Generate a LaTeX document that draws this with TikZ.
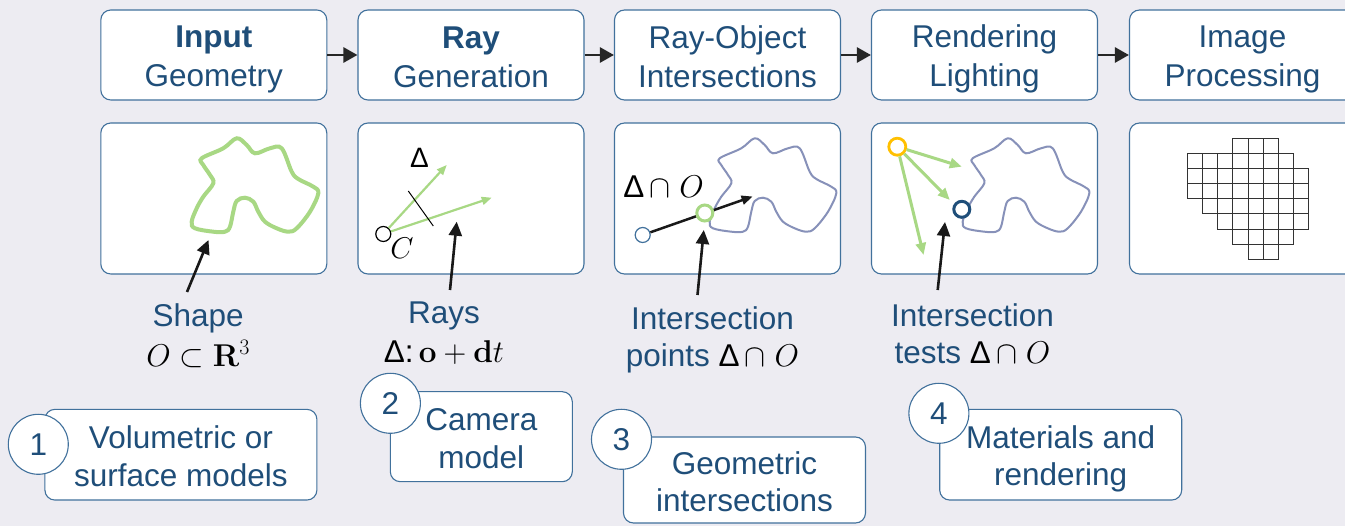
\RequirePackage{fix-cm}
\documentclass[tikz,border=0pt]{standalone}
\usepackage[no-math]{fontspec}
\setmainfont{Liberation Sans}
\usetikzlibrary{arrows.meta}
\definecolor{bgc}{RGB}{237,236,242}
\definecolor{bordc}{RGB}{65,113,156}
\definecolor{txtc}{RGB}{31,78,121}
\definecolor{grn}{RGB}{168,216,132}
\definecolor{blobc}{RGB}{135,145,185}
\definecolor{gold}{RGB}{255,192,0}
\definecolor{dkblue}{RGB}{31,78,121}
\newcommand\fs{\fontsize{31.5}{37.5}\selectfont}
\newcommand\lstrut{\rule[-5.5pt]{0pt}{37pt}}
\begin{document}
\begin{tikzpicture}[x=1pt,y=-1pt,
  stage/.style={draw=bordc, line width=1.1pt, fill=white, rounded corners=10pt, minimum width=226pt, minimum height=90pt, inner sep=0pt, align=center, text=txtc, font=\fs},
  panel/.style={draw=bordc, line width=1.1pt, fill=white, rounded corners=10pt, minimum width=226pt, minimum height=151pt, inner sep=0pt},
  tag/.style={draw=bordc, line width=1.1pt, fill=white, rounded corners=10pt, inner sep=0pt, align=center, text=txtc, font=\fs},
  num/.style={circle, draw=bordc, line width=1.1pt, fill=white, minimum size=60pt, inner sep=0pt, text=txtc, font=\fs},
  caption/.style={align=center, text=txtc, font=\fs, inner sep=0pt},
  flow/.style={line width=2.6pt, draw=black!85, -{Triangle[length=14pt,width=15pt]}},
  pointer/.style={line width=2.6pt, draw=black!90, -{Triangle[length=14pt,width=13pt]}},
  ray/.style={line width=2.2pt, draw=grn, -{Triangle[length=10pt,width=8pt]}},
  rayb/.style={line width=3pt, draw=grn, -{Triangle[length=12pt,width=10pt]}},
  dot/.style={circle, fill=white, inner sep=0pt},
  cell/.style={draw=black!80, line width=0.9pt},
  blob/.pic={\draw[pic actions] plot[smooth cycle, tension=0.6] coordinates{
    (101.7,35.3) (123.3,25.3) (136.7,15.3) (146.7,22) (155,30.3) (170,25.3) (181.7,25.3)
    (191.7,48.7) (198.3,56) (213.3,63.7) (218.3,70.3) (210,88.7) (196.7,105.3) (188.3,108.7)
    (176.7,105.3) (165,98.7) (158.3,88.7) (153.3,78.7) (145,74.7) (136.7,78) (133.3,88.7)
    (130,103.7) (125,108.7) (113.3,108.7) (95,105.3) (91.7,98.7) (96.7,85.3) (103.3,73.7)
    (113.3,60.3) (110,52) (103.3,42)};}
]
\useasboundingbox (0,0) rectangle (1345,526);
\fill[bgc] (0,0) rectangle (1345,526);
\clip (0,0) rectangle (1345,526);

% top stages
\node[stage] (t1) at (213.8,55) {\lstrut\textbf{Input}\\Geometry\lstrut};
\node[stage] (t2) at (471,55) {\lstrut\textbf{Ray}\\Generation\lstrut};
\node[stage] (t3) at (727.5,55) {\lstrut Ray-Object\\Intersections\lstrut};
\node[stage] (t4) at (984.5,55) {\lstrut Rendering\\Lighting\lstrut};
\node[stage] (t5) at (1242.5,55) {\lstrut Image\\Processing\lstrut};
\draw[flow] (t1) -- (t2);
\draw[flow] (t2) -- (t3);
\draw[flow] (t3) -- (t4);
\draw[flow] (t4) -- (t5);

% panels
\node[panel] (p1) at (213.8,198.5) {};
\node[panel] (p2) at (471,198.5) {};
\node[panel] (p3) at (727.5,198.5) {};
\node[panel] (p4) at (984.5,198.5) {};
\node[panel] (p5) at (1242.5,198.5) {};

% panel 1
\pic[draw=grn, line width=4pt] at (100,123) {blob};

% panel 2
\node[dot, draw=black, line width=1.2pt, minimum size=15pt] (cam) at (383.3,234) {};
\coordinate (r1) at (446.7,165);
\coordinate (r2) at (491.7,197.7);
\draw[ray] (cam) -- (r1);
\draw[ray] (cam) -- (r2);
\coordinate (k1) at (408.3,191);
\coordinate (k2) at (433.3,226);
\draw[black, line width=1pt] (k1) -- (k2);
\node[font=\fontsize{28}{30}\selectfont, inner sep=0pt] (delta) at (419.5,158) {Δ};
\node[font=\fontsize{30}{30}\selectfont, inner sep=0pt] (cname) at (402,248) {$C$};

% panel 3
\pic[draw=blobc, line width=2pt] at (618,123) {blob};
\node[dot, draw=bordc, line width=1.2pt, minimum size=15pt] (org) at (642.7,235) {};
\coordinate (hit) at (752.6,196.5);
\draw[line width=2.5pt, draw=black!90, -{Triangle[length=11pt,width=9pt]}] (org) -- (hit);
\node[dot, draw=grn, line width=3pt, minimum size=16pt] (ipt) at (704.8,213) {};
\node[font=\fs, inner sep=0pt] (dco) at (663.5,186.5) {Δ\,$\cap\;O$};

% panel 4
\pic[draw=blobc, line width=2pt] at (871,123) {blob};
\node[dot, draw=gold, line width=2.8pt, minimum size=17pt] (lamp) at (897.3,146.7) {};
\coordinate (l1) at (961.8,166.7);
\coordinate (l2) at (949.8,200);
\coordinate (l3) at (923.6,255);
\draw[rayb] (lamp) -- (l1);
\draw[rayb] (lamp) -- (l2);
\draw[rayb] (lamp) -- (l3);
\node[dot, draw=dkblue, line width=3pt, minimum size=16pt] (spt) at (961.8,209.3) {};

% panel 5: pixel grid
\foreach \r/\a/\b in {0/3/5, 1/0/6, 2/0/7, 3/0/7, 4/1/7, 5/2/7, 6/3/6, 7/4/5}{
  \foreach \c in {\a,...,\b}{
    \draw[cell] ({1187.3+\c*15.17},{138.3+\r*15.13}) rectangle ++(15.17,15.13);
  }
}

% captions
\node[caption] (c1) at (198.2,333.5) {\lstrut Shape\\\textcolor{black}{$O\subset\mathbf{R}^3$}\lstrut};
\node[caption] (c2) at (444,329.8) {\lstrut Rays\\\textcolor{black}{Δ:\,$\mathbf{o}+\mathbf{d}t$}\lstrut};
\node[caption] (c3) at (712.5,335.5) {\lstrut Intersection\\points \textcolor{black}{Δ\,$\cap\;O$}\lstrut};
\node[caption] (c4) at (972.5,332) {\lstrut Intersection\\tests \textcolor{black}{Δ\,$\cap\;O$}\lstrut};

% pointers
\coordinate (a1s) at (187,292);   \coordinate (a1e) at (208.5,240);
\coordinate (a2s) at (450,290);   \coordinate (a2e) at (456.7,221.7);
\coordinate (a3s) at (697.5,295); \coordinate (a3e) at (703.8,230);
\coordinate (a4s) at (937.7,290); \coordinate (a4e) at (945,222);
\draw[pointer] (a1s) -- (a1e);
\draw[pointer] (a2s) -- (a2e);
\draw[pointer] (a3s) -- (a3e);
\draw[pointer] (a4s) -- (a4e);

% tags
\node[tag, minimum width=272pt, minimum height=90.7pt] (g1) at (180.9,454.7) {\lstrut Volumetric or\\surface models\lstrut};
\node[tag, minimum width=182pt, minimum height=90pt] (g2) at (481.3,436.7) {\lstrut Camera\\model\lstrut};
\node[tag, minimum width=242pt, minimum height=86pt] (g3) at (744.5,480) {\lstrut Geometric\\intersections\lstrut};
\node[tag, minimum width=242pt, minimum height=90.7pt] (g4) at (1060.7,454.7) {\lstrut Materials and\\rendering\lstrut};
\node[num] (n1) at (38.3,444.3) {1};
\node[num] (n2) at (390.4,403.3) {2};
\node[num] (n3) at (621.5,439.3) {3};
\node[num] (n4) at (938.9,413.3) {4};
\end{tikzpicture}
\end{document}
